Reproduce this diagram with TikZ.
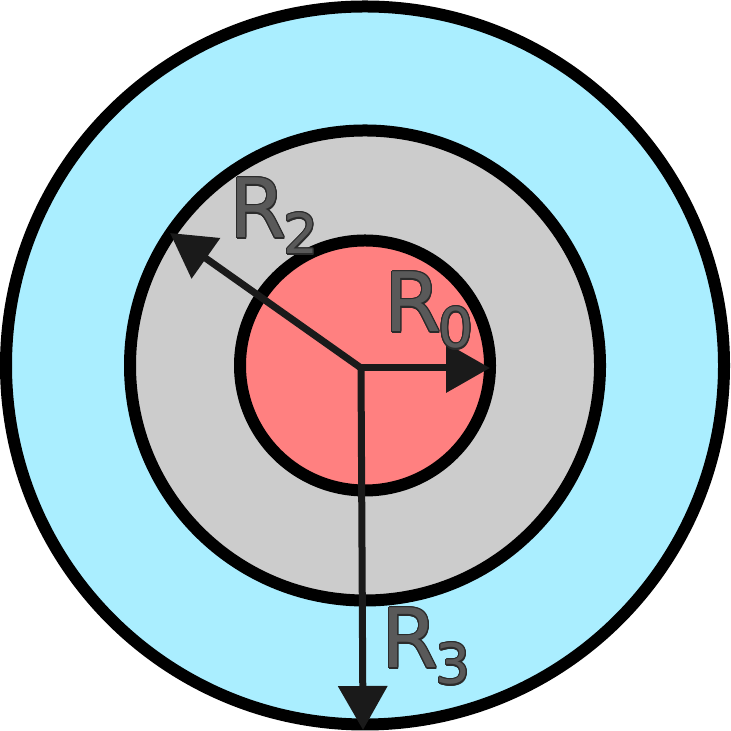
\documentclass[tikz,border=0pt]{standalone}
\usepackage{fontspec}
\usepackage{contour}
\usetikzlibrary{arrows.meta}
\newfontfamily\labelfont{DejaVu Sans}
\definecolor{SHELLblue}{HTML}{AAEEFF}
\definecolor{SHELLgrey}{HTML}{CCCCCC}
\definecolor{SHELLred}{HTML}{FF8080}
\definecolor{ARROWdark}{HTML}{1A1A1A}
\definecolor{LABELgrey}{HTML}{595959}
\definecolor{LABELedge}{HTML}{2B2B2B}
\contourlength{0.35pt}
\contournumber{16}
\newcommand{\radlabel}[1]{\contour{LABELedge}{\textcolor{LABELgrey}{R\kern-0.03cm\raisebox{-0.16cm}{\fontsize{0.55cm}{0.6cm}\selectfont #1}}}}

\begin{document}
\begin{tikzpicture}[
		shell/.style={draw=black, line width=0.12cm},
		radarrow/.style={draw=ARROWdark, line width=0.07cm, -{Triangle[length=0.44cm, width=0.48cm]}},
		radlab/.style={inner sep=0pt, anchor=base west, font=\labelfont\fontsize{0.82cm}{0.9cm}\selectfont}
	]
		\useasboundingbox (0,0) rectangle (7.30,7.31);
		
		% shells
		\coordinate (c) at (3.65,3.655);
		\draw[shell, fill=SHELLblue] (c) circle (3.59);
		\draw[shell, fill=SHELLgrey] (c) circle (2.35);
		\draw[shell, fill=SHELLred] (c) circle (1.25);
		
		% radii
		\coordinate (o) at (3.61,3.63);
		\coordinate (r0end) at (4.90,3.63);
		\coordinate (r2end) at (1.70,4.98);
		\coordinate (r3end) at (3.63,0.01);
		\draw[radarrow] (o) -- (r0end);
		\draw[radarrow] (o) -- (r2end);
		\draw[radarrow] (o) -- (r3end);
		
		% labels
		\node[radlab] (lab2) at (2.29,4.93) {\radlabel{2}};
		\node[radlab] (lab0) at (3.84,3.99) {\radlabel{0}};
		\node[radlab] (lab3) at (3.81,0.63) {\radlabel{3}};
	\end{tikzpicture}
\end{document}
